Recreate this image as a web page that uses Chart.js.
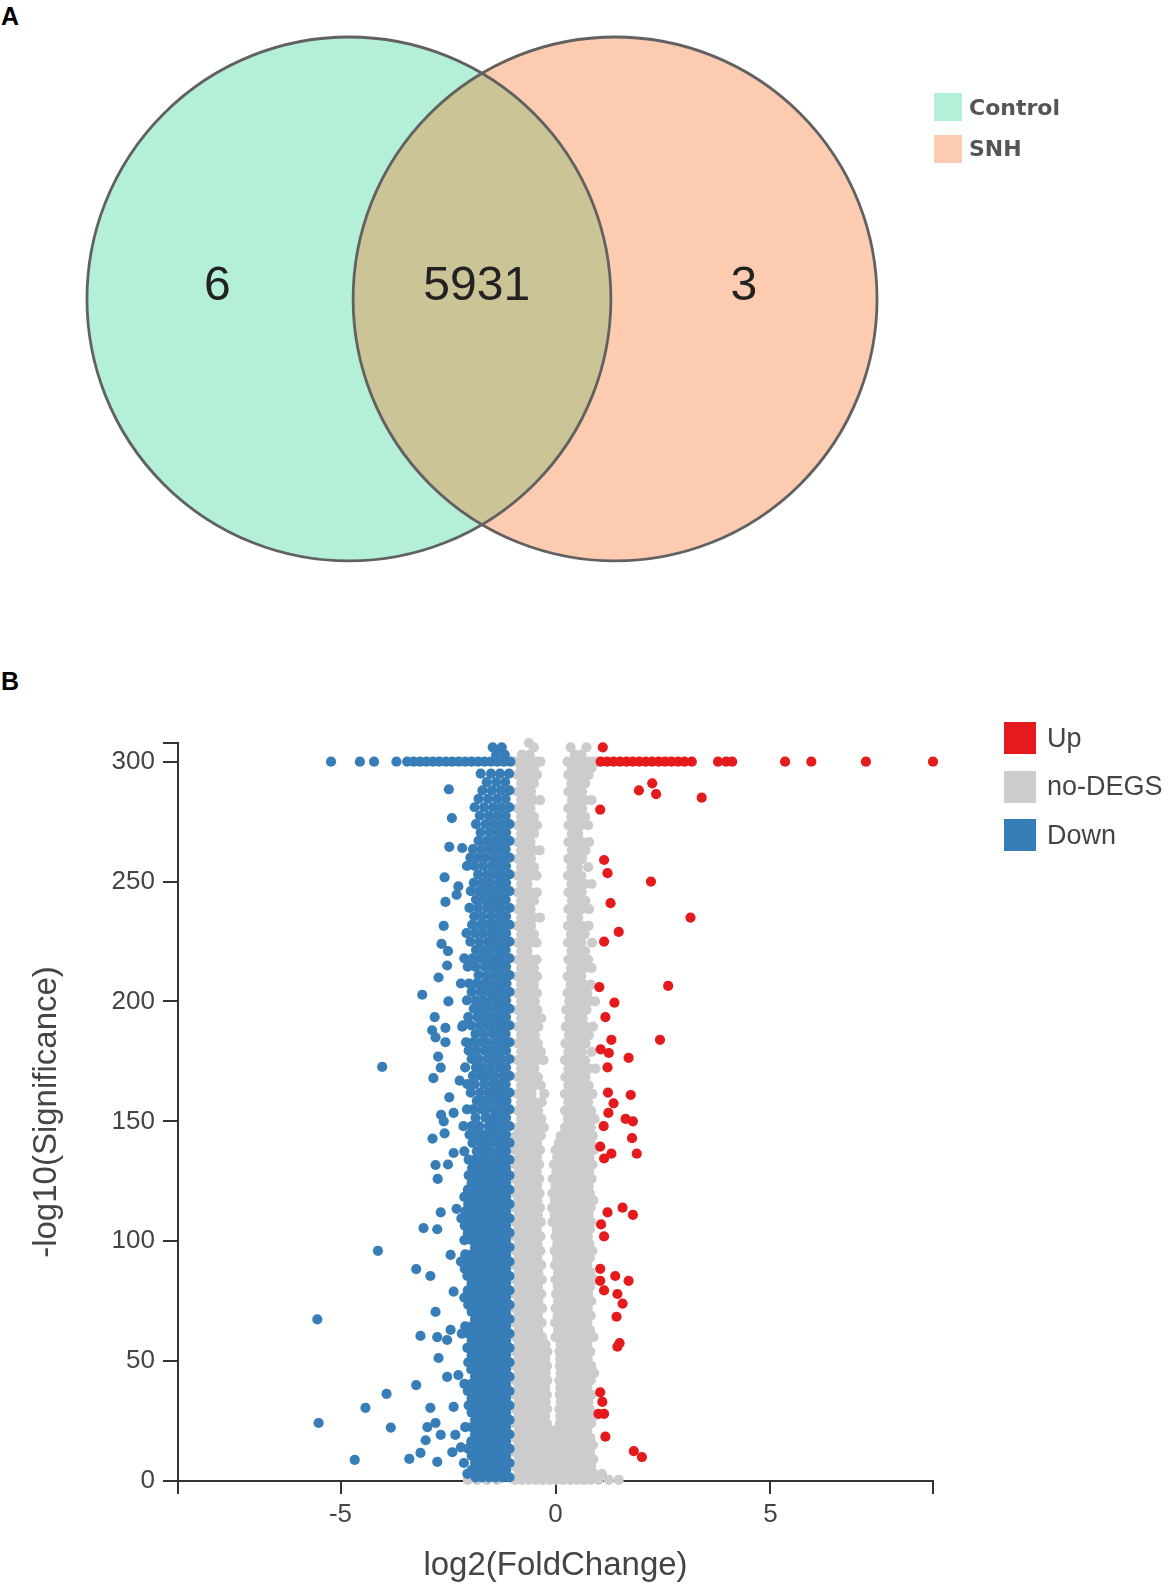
<!DOCTYPE html>
<html>
<head>
<meta charset="utf-8">
<title>Venn diagram and volcano plot</title>
<script src="https://cdn.jsdelivr.net/npm/chart.js@4.4.1/dist/chart.umd.min.js"></script>
<style>
  html, body { margin: 0; padding: 0; background: #fff; }
  body { position: relative; width: 1172px; height: 1592px; overflow: hidden; font-family: 'Liberation Sans', Arial, sans-serif; }
  canvas { position: absolute; left: 0; }
  #venn { top: 0; }
  #volcano { top: 700px; }
  .panel-tag { position: absolute; left: 1px; font-weight: bold; font-size: 25px; line-height: 25px; color: #000; }
  .legend { position: absolute; }
  .legend .row { display: flex; align-items: center; }
  .legend .swatch { flex: none; }
  #venn-legend { left: 934px; top: 93px; font-family: 'DejaVu Sans', sans-serif; font-weight: bold; font-size: 22px; color: #555; }
  #venn-legend .row { height: 28px; margin-bottom: 13.5px; }
  #venn-legend .swatch { width: 28px; height: 28px; margin-right: 7px; }
  #volcano-legend { left: 1004px; top: 722px; font-size: 27px; color: #444; }
  #volcano-legend .row { height: 32px; margin-bottom: 16.5px; }
  #volcano-legend .swatch { width: 32px; height: 32px; margin-right: 11px; }
</style>
</head>
<body>
<div class="panel-tag" style="top:4px">A</div>
<div class="panel-tag" style="top:669px">B</div>
<canvas id="venn" width="1172" height="600"></canvas>
<canvas id="volcano" width="1172" height="892"></canvas>
<div class="legend" id="venn-legend"></div>
<div class="legend" id="volcano-legend"></div>

<script>
// ---- panel A : venn ----
const vennSets = ['Control', 'SNH'];
const vennColors = ['#b4f0d7', '#fdcbb0'];
const vennOverlapColor = '#cbc497';
const vennCenterX = [-0.508, 0.508];
const vennRadius = 1;
const vennCounts = [6, 5931, 3];
const vennCountX = [-1.01, -0.02, 1.0];

// ---- panel B : volcano ----
const seriesNames = ['Up', 'no-DEGS', 'Down'];
const seriesColors = ['#e41a1c', '#cccccc', '#377eb8'];
const xTicks = [-5, 0, 5];
const yTicks = [0, 50, 100, 150, 200, 250, 300];

// rows are [y, x, x, ...]
const upRows = [
  [300, 1.05,1.2,1.35,1.5,1.65,1.8,1.95,2.1,2.25,2.4,2.55,2.7,2.85,3.0,3.17,3.78,3.97,4.11,5.34,5.95,7.22,8.78]
];
// pairs are [x, y]
const upExtra = [
  [1.1,306],[1.94,288],[2.25,291],[2.34,286.5],[3.4,285],[1.04,280],[1.13,259],[1.21,253.5],[2.22,250],
  [1.28,241],[3.14,235],[1.47,229],[1.13,225],[2.62,206.5],[1.02,206],[1.37,199.5],[1.16,193.5],[2.43,184],
  [1.3,184],[1.05,180],[1.24,178.5],[1.7,176.5],[1.21,172.5],[1.22,162],[1.75,161],[1.35,157.5],[1.23,153.5],
  [1.63,151],[1.8,150],[1.12,148],[1.78,143],[1.89,136.5],[1.04,139.5],[1.13,134.5],[1.3,136.5],[1.21,112],
  [1.56,114],[1.8,111],[1.06,107],[1.13,102],[1.04,88.5],[1.39,85.5],[1.7,83.5],[1.04,83.5],[1.13,79.5],
  [1.44,78],[1.56,74],[1.42,68.5],[1.49,57.5],[1.44,56],[1.04,37],[1.09,33],[1.0,28],[1.13,28],[1.16,18.5],
  [1.82,12.5],[2.01,10]
];

const flatRows = [
  [0.5, -2.04,-1.83,-1.6,-1.36,-0.94,-0.78,-0.62,-0.46,-0.3,-0.14,0.02,0.18,0.34,0.5,0.66,0.82,1.0,1.24,1.47],
  [3, -0.86,-0.7,-0.54,-0.38,-0.22,-0.06,0.1,0.26,0.42,0.58,0.74,0.9,1.08],
  [6, -0.93,-0.77,-0.61,-0.45,-0.29,-0.13,0.03,0.19,0.35,0.51,0.67,0.83],
  [9, -0.85,-0.69,-0.53,-0.37,-0.21,-0.05,0.11,0.27,0.43,0.59,0.75,0.88],
  [12, -0.94,-0.78,-0.62,-0.46,-0.3,-0.14,0.02,0.18,0.34,0.5,0.66,0.8],
  [15, -0.86,-0.7,-0.54,-0.38,-0.22,-0.06,0.1,0.26,0.42,0.58,0.73,0.87],
  [18, -0.93,-0.77,-0.61,-0.45,-0.29,-0.13,0.03,0.19,0.35,0.51,0.67,0.81],
  [21, -0.85,-0.69,-0.53,-0.37,-0.21,-0.05,0.11,0.27,0.43,0.59,0.74],
  [24, -0.94,-0.78,-0.62,-0.46,-0.32,-0.2,0.1,0.24,0.39,0.54,0.69,0.83],
  [27, -0.86,-0.7,-0.54,-0.39,-0.24,0.11,0.27,0.43,0.59,0.75,0.89],
  [30, -0.93,-0.77,-0.61,-0.45,-0.31,-0.19,0.09,0.23,0.38,0.53,0.68,0.8],
  [33, -0.85,-0.69,-0.53,-0.38,-0.23,0.12,0.28,0.44,0.6,0.76],
  [36, -0.94,-0.78,-0.62,-0.46,-0.32,-0.2,0.1,0.25,0.4,0.55,0.7,0.84],
  [39, -0.86,-0.7,-0.54,-0.39,-0.24,0.11,0.27,0.43,0.59,0.74],
  [42, -0.93,-0.77,-0.61,-0.45,-0.31,-0.19,0.09,0.24,0.39,0.54,0.69,0.82],
  [45, -0.85,-0.69,-0.53,-0.38,-0.23,0.12,0.28,0.44,0.6,0.76,0.9],
  [48, -0.94,-0.78,-0.62,-0.46,-0.32,-0.2,0.1,0.25,0.4,0.55,0.7,0.83],
  [51, -0.86,-0.7,-0.54,-0.39,-0.24,0.11,0.27,0.43,0.59,0.75],
  [54, -0.93,-0.77,-0.61,-0.45,-0.31,-0.19,0.09,0.24,0.39,0.54,0.69,0.81],
  [57, -0.85,-0.69,-0.53,-0.38,-0.23,0.12,0.28,0.44,0.6,0.74],
  [60, -0.93,-0.77,-0.61,-0.46,-0.31,0.0,0.15,0.3,0.45,0.6,0.75,0.88],
  [63, -0.85,-0.69,-0.54,-0.4,0.06,0.22,0.38,0.53,0.68,0.8],
  [66, -0.94,-0.78,-0.62,-0.47,-0.32,-0.01,0.14,0.29,0.44,0.59,0.74],
  [69, -0.86,-0.7,-0.55,-0.41,0.05,0.21,0.37,0.52,0.67,0.82],
  [72, -0.93,-0.77,-0.61,-0.46,-0.31,0.0,0.15,0.3,0.45,0.6,0.75],
  [75, -0.85,-0.69,-0.54,-0.4,0.06,0.22,0.38,0.53,0.68,0.83],
  [78, -0.94,-0.78,-0.62,-0.47,-0.33,0.01,0.16,0.31,0.46,0.61,0.76],
  [81, -0.86,-0.7,-0.55,-0.41,0.05,0.21,0.37,0.52,0.67,0.8],
  [84, -0.93,-0.77,-0.61,-0.46,-0.32,0.0,0.15,0.3,0.45,0.6,0.75,0.9],
  [87, -0.85,-0.69,-0.54,-0.4,0.06,0.22,0.38,0.53,0.68,0.81],
  [90, -0.94,-0.78,-0.62,-0.47,-0.33,-0.01,0.14,0.29,0.44,0.59,0.74],
  [93, -0.86,-0.7,-0.55,-0.42,0.04,0.2,0.36,0.51,0.66,0.8],
  [96, -0.93,-0.77,-0.61,-0.47,-0.35,-0.02,0.13,0.28,0.43,0.58,0.73,0.86],
  [99, -0.85,-0.69,-0.54,-0.42,0.04,0.2,0.36,0.51,0.66,0.79],
  [102, -0.94,-0.78,-0.62,-0.48,-0.35,0.0,0.15,0.3,0.45,0.6,0.75],
  [105, -0.86,-0.7,-0.56,-0.44,0.03,0.19,0.35,0.5,0.65,0.8],
  [108, -0.93,-0.77,-0.61,-0.46,-0.34,-0.07,0.08,0.23,0.38,0.53,0.68,0.83],
  [111, -0.85,-0.69,-0.54,-0.41,-0.02,0.15,0.31,0.47,0.62,0.77],
  [114, -0.94,-0.78,-0.62,-0.48,-0.36,-0.08,0.07,0.22,0.37,0.52,0.67,0.82],
  [117, -0.86,-0.7,-0.55,-0.42,-0.01,0.15,0.31,0.46,0.61,0.76,0.88],
  [120, -0.93,-0.77,-0.62,-0.48,-0.37,-0.07,0.08,0.23,0.38,0.53,0.68,0.8],
  [123, -0.85,-0.7,-0.55,-0.43,0.0,0.16,0.32,0.47,0.62,0.77],
  [126, -0.94,-0.78,-0.63,-0.5,-0.38,-0.06,0.09,0.24,0.39,0.54,0.69,0.84],
  [129, -0.86,-0.71,-0.56,-0.44,0.02,0.17,0.33,0.48,0.63,0.78],
  [132, -0.93,-0.77,-0.62,-0.49,-0.38,-0.04,0.11,0.26,0.41,0.56,0.71,0.86],
  [135, -0.85,-0.7,-0.56,-0.43,0.04,0.19,0.34,0.49,0.64,0.79],
  [138, -0.94,-0.78,-0.63,-0.48,-0.36,0.0,0.14,0.29,0.44,0.59,0.74,0.89],
  [141, -0.86,-0.71,-0.57,-0.43,0.08,0.23,0.38,0.53,0.68,0.82],
  [144, -0.93,-0.77,-0.62,-0.47,-0.34,0.12,0.27,0.42,0.57,0.72,0.87],
  [147.5, -0.88,-0.72,-0.56,-0.41,-0.27,0.22,0.37,0.52,0.67,0.82],
  [151, -0.8,-0.64,-0.48,-0.33,0.29,0.44,0.6,0.75,0.91],
  [154.5, -0.88,-0.72,-0.56,-0.4,0.22,0.37,0.52,0.68,0.83],
  [158, -0.8,-0.64,-0.48,-0.32,0.3,0.45,0.6,0.76],
  [161.5, -0.88,-0.72,-0.56,-0.26,0.22,0.37,0.53,0.69,0.86],
  [165, -0.8,-0.64,-0.48,-0.34,0.3,0.45,0.61,0.77],
  [168.5, -0.88,-0.72,-0.56,-0.41,0.23,0.38,0.53,0.7],
  [172, -0.8,-0.64,-0.49,0.3,0.46,0.62,0.78,0.93],
  [175.5, -0.88,-0.72,-0.57,-0.42,-0.28,0.22,0.37,0.53,0.69],
  [179, -0.8,-0.64,-0.49,-0.34,0.3,0.46,0.61,0.84],
  [182.5, -0.88,-0.72,-0.57,-0.41,0.23,0.38,0.54,0.7],
  [186, -0.8,-0.64,-0.48,0.31,0.46,0.62,0.78],
  [189.5, -0.88,-0.72,-0.56,-0.4,0.24,0.39,0.55,0.71,0.87],
  [193, -0.8,-0.64,-0.49,-0.33,0.32,0.47,0.63],
  [196.5, -0.88,-0.72,-0.57,-0.42,0.25,0.4,0.56,0.72],
  [200, -0.8,-0.64,-0.48,0.32,0.48,0.64,0.8,0.92],
  [203.5, -0.88,-0.72,-0.57,-0.43,0.28,0.43,0.59,0.74],
  [207, -0.8,-0.64,-0.5,0.35,0.5,0.66,0.82],
  [210.5, -0.88,-0.72,-0.57,-0.43,0.28,0.44,0.6],
  [214, -0.8,-0.65,-0.5,0.36,0.52,0.68,0.84],
  [217.5, -0.88,-0.72,-0.58,-0.44,0.3,0.45,0.6,0.76],
  [221, -0.8,-0.65,0.37,0.53,0.69],
  [224.5, -0.88,-0.73,-0.58,-0.44,0.29,0.44,0.6,0.85],
  [228, -0.8,-0.65,-0.5,0.36,0.52,0.68],
  [231.5, -0.88,-0.72,-0.57,0.29,0.45,0.61,0.77],
  [235, -0.8,-0.65,-0.5,-0.36,0.37,0.53],
  [238.5, -0.88,-0.72,-0.58,0.3,0.46,0.62,0.78],
  [242, -0.8,-0.65,-0.5,0.38,0.54,0.7],
  [245.5, -0.88,-0.72,-0.57,-0.43,0.3,0.45,0.61],
  [249, -0.8,-0.65,0.37,0.53,0.69,0.84],
  [252.5, -0.88,-0.73,-0.58,-0.44,0.29,0.45,0.6],
  [256, -0.8,-0.65,-0.5,0.37,0.52,0.76],
  [259.5, -0.88,-0.72,-0.57,0.3,0.45,0.62],
  [263, -0.8,-0.65,-0.5,-0.37,0.38,0.54,0.7],
  [266.5, -0.88,-0.72,-0.58,0.3,0.46,0.62,0.78],
  [270, -0.8,-0.65,-0.5,0.38,0.53],
  [273.5, -0.88,-0.72,-0.57,-0.43,0.3,0.45,0.61,0.76],
  [277, -0.8,-0.65,-0.5,0.37,0.53,0.69],
  [280.5, -0.88,-0.72,-0.58,0.3,0.46,0.62],
  [284, -0.8,-0.65,-0.5,-0.36,0.38,0.54,0.7,0.84],
  [287.5, -0.88,-0.72,-0.57,0.3,0.46,0.62],
  [291, -0.8,-0.65,-0.5,0.37,0.53,0.69],
  [294.5, -0.88,-0.72,-0.57,-0.43,0.3,0.45,0.61,0.77],
  [297.5, -0.8,-0.65,-0.5,0.38,0.53,0.68,0.84],
  [300, -0.93,-0.81,-0.69,-0.57,-0.45,-0.35,0.28,0.4,0.52,0.64,0.76,0.88,0.98],
  [303, -0.78,-0.6,0.45,0.6],
  [306, -0.5,0.35,0.72],
  [307.8, -0.62]
];

const downRows = [
  [1.5, -1.07,-1.23,-1.39,-1.55,-1.71,-1.86],
  [4.5, -1.15,-1.31,-1.47,-1.63,-1.79,-1.95],
  [7.5, -1.07,-1.23,-1.39,-1.55,-1.71,-1.87],
  [10.5, -1.15,-1.31,-1.47,-1.63,-1.79,-1.95],
  [13.5, -1.07,-1.23,-1.39,-1.55,-1.71,-1.87,-2.03],
  [16.5, -1.15,-1.31,-1.47,-1.63,-1.79,-1.96],
  [19.5, -1.07,-1.23,-1.39,-1.55,-1.71,-1.87],
  [22.5, -1.15,-1.31,-1.47,-1.63,-1.79,-1.95,-2.1],
  [25.5, -1.07,-1.23,-1.39,-1.55,-1.71,-1.87],
  [28.5, -1.15,-1.31,-1.47,-1.63,-1.79,-1.95],
  [31.5, -1.07,-1.23,-1.39,-1.55,-1.71,-1.87,-2.02],
  [34.5, -1.15,-1.31,-1.47,-1.63,-1.79,-1.95],
  [37.5, -1.07,-1.23,-1.39,-1.55,-1.71,-1.87,-2.04],
  [40.5, -1.15,-1.31,-1.47,-1.63,-1.79,-1.95,-2.12],
  [43.5, -1.07,-1.23,-1.39,-1.55,-1.71,-1.87],
  [46.5, -1.15,-1.31,-1.47,-1.63,-1.79,-1.96],
  [49.5, -1.07,-1.23,-1.39,-1.55,-1.71,-1.87,-2.03],
  [52.5, -1.15,-1.31,-1.47,-1.63,-1.79,-1.95],
  [55.5, -1.07,-1.23,-1.39,-1.55,-1.71,-1.87,-2.05],
  [58.5, -1.15,-1.31,-1.47,-1.63,-1.79,-1.95],
  [61.5, -1.07,-1.23,-1.39,-1.55,-1.71,-1.87,-2.03,-2.18],
  [64.5, -1.15,-1.31,-1.47,-1.63,-1.79,-1.95,-2.1],
  [67.5, -1.07,-1.23,-1.39,-1.55,-1.71,-1.87],
  [70.5, -1.15,-1.31,-1.47,-1.63,-1.79,-1.95],
  [73.5, -1.07,-1.23,-1.39,-1.55,-1.71,-1.87,-2.03],
  [76.5, -1.15,-1.31,-1.47,-1.63,-1.79,-1.96,-2.12],
  [79.5, -1.07,-1.23,-1.39,-1.55,-1.71,-1.87,-2.04],
  [82.5, -1.15,-1.31,-1.47,-1.63,-1.79,-1.95],
  [85.5, -1.07,-1.23,-1.39,-1.55,-1.71,-1.87,-2.05],
  [88.5, -1.15,-1.31,-1.47,-1.63,-1.79,-1.95,-2.11],
  [91.5, -1.07,-1.23,-1.39,-1.55,-1.71,-1.87,-2.03,-2.2],
  [94.5, -1.15,-1.31,-1.47,-1.63,-1.79,-1.95,-2.1],
  [97.5, -1.07,-1.23,-1.39,-1.55,-1.71,-1.87],
  [100.5, -1.15,-1.31,-1.47,-1.63,-1.79,-1.95,-2.12],
  [103.5, -1.07,-1.23,-1.39,-1.55,-1.71,-1.87,-2.04],
  [106.5, -1.15,-1.31,-1.47,-1.63,-1.79,-1.95,-2.11],
  [109.5, -1.07,-1.23,-1.39,-1.55,-1.71,-1.87,-2.03,-2.19],
  [112.5, -1.15,-1.31,-1.47,-1.63,-1.79,-1.95,-2.1],
  [115.5, -1.07,-1.23,-1.39,-1.55,-1.71,-1.87,-2.03],
  [118.5, -1.15,-1.31,-1.47,-1.63,-1.79,-1.95,-2.12],
  [121.5, -1.07,-1.23,-1.39,-1.55,-1.71,-1.87,-2.04],
  [124.5, -1.15,-1.31,-1.47,-1.63,-1.79,-1.95],
  [127.5, -1.07,-1.23,-1.39,-1.55,-1.71,-1.87,-2.02],
  [130.5, -1.15,-1.31,-1.47,-1.63,-1.79,-1.94],
  [134, -1.07,-1.23,-1.39,-1.55,-1.71,-1.87,-2.02],
  [137.5, -1.15,-1.31,-1.5,-1.66,-1.83,-2.12],
  [141, -1.07,-1.23,-1.39,-1.58,-1.74,-1.93],
  [144.5, -1.15,-1.33,-1.48,-1.66,-1.84,-2.0],
  [148, -1.07,-1.22,-1.4,-1.55,-1.77,-1.95,-2.14],
  [151.5, -1.15,-1.3,-1.46,-1.63,-1.86],
  [155, -1.07,-1.23,-1.41,-1.6,-1.73,-1.92,-2.06],
  [158.5, -1.14,-1.32,-1.5,-1.68,-1.83],
  [162, -1.07,-1.25,-1.39,-1.56,-1.76,-1.97],
  [165.5, -1.16,-1.31,-1.47,-1.66,-1.88,-2.05],
  [169, -1.07,-1.22,-1.42,-1.59,-1.74,-1.92],
  [172.5, -1.15,-1.31,-1.5,-1.69,-1.85,-2.1],
  [176, -1.07,-1.26,-1.41,-1.58,-1.78,-1.95],
  [179.5, -1.15,-1.33,-1.49,-1.65,-1.84,-2.02],
  [183, -1.07,-1.23,-1.41,-1.6,-1.73,-1.91,-2.08],
  [186.5, -1.16,-1.3,-1.47,-1.67,-1.86],
  [190, -1.07,-1.24,-1.4,-1.57,-1.76,-1.96,-2.15],
  [193.5, -1.15,-1.32,-1.5,-1.65,-1.82,-2.03],
  [197, -1.07,-1.22,-1.39,-1.58,-1.75,-1.9],
  [200.5, -1.15,-1.32,-1.49,-1.68,-1.86,-2.06],
  [204, -1.07,-1.25,-1.41,-1.56,-1.74,-1.95],
  [207.5, -1.14,-1.31,-1.5,-1.66,-1.84,-2.01,-2.2],
  [211, -1.07,-1.24,-1.42,-1.6,-1.79],
  [214.5, -1.15,-1.33,-1.48,-1.65,-1.86,-2.04],
  [218, -1.07,-1.23,-1.4,-1.58,-1.74,-1.93,-2.12],
  [221.5, -1.16,-1.31,-1.5,-1.67,-1.85],
  [225, -1.07,-1.24,-1.4,-1.57,-1.77,-1.98],
  [228.5, -1.15,-1.33,-1.49,-1.68,-1.87,-2.07],
  [232, -1.07,-1.23,-1.41,-1.58,-1.75,-1.94],
  [235.5, -1.15,-1.31,-1.5,-1.7,-1.89],
  [239, -1.07,-1.26,-1.42,-1.6,-1.8,-2.0],
  [242.5, -1.16,-1.33,-1.5,-1.67,-1.85],
  [246, -1.07,-1.23,-1.41,-1.59,-1.77,-1.97],
  [249.5, -1.15,-1.32,-1.52,-1.7,-1.9],
  [253, -1.07,-1.25,-1.42,-1.6,-1.8],
  [256.5, -1.15,-1.32,-1.49,-1.68,-1.88,-2.06],
  [260, -1.07,-1.24,-1.43,-1.62,-1.8],
  [263.5, -1.16,-1.34,-1.52,-1.72,-1.92],
  [267, -1.07,-1.23,-1.41,-1.6,-1.79],
  [270.5, -1.15,-1.33,-1.53,-1.74],
  [274, -1.07,-1.25,-1.44,-1.63,-1.85],
  [277.5, -1.16,-1.35,-1.55,-1.76],
  [281, -1.07,-1.26,-1.45,-1.66,-1.88],
  [284.5, -1.16,-1.36,-1.57,-1.79],
  [288, -1.07,-1.27,-1.48,-1.7],
  [291.5, -1.17,-1.38,-1.6],
  [295, -1.08,-1.29,-1.5,-1.74],
  [300, -5.22,-4.55,-4.22,-3.7,-3.45,-3.3,-3.15,-3.0,-2.85,-2.7,-2.55,-2.4,-2.25,-2.1,-1.95,-1.8,-1.65,-1.5,-1.35,-1.2,-1.05],
  [303, -1.38,-1.18],
  [306, -1.46,-1.25]
];

const downExtra = [
  [-2.48,288.5],[-2.41,276.5],[-2.47,264.5],[-2.17,264],[-1.98,260],[-2.58,251.8],[-2.26,248],[-2.3,244.5],
  [-2.56,241.5],[-2.6,231.5],[-2.65,224],[-2.5,221],[-2.52,215],[-2.72,210],[-3.1,202.8],[-2.49,200],
  [-2.81,193.5],[-2.17,189.5],[-2.56,189],[-2.87,188],[-2.79,185],[-2.56,183],[-2.73,177],[-4.03,172.7],
  [-2.67,172.4],[-2.84,168],[-2.23,167],[-2.47,160],[-2.37,153.5],[-2.66,152.7],[-2.6,150],[-2.58,145],
  [-2.86,142.8],[-2.37,136.8],[-2.79,131.8],[-2.5,132],[-2.74,126],[-2.67,112],[-2.3,113.5],[-3.07,105.5],
  [-2.75,105],[-4.13,96],[-2.44,94.3],[-3.24,88.4],[-2.91,85.5],[-2.37,79],[-2.79,70.5],[-5.54,67.4],
  [-3.14,60.5],[-2.75,60],[-2.52,58.8],[-2.44,63],[-2.72,51.3],[-2.52,43.4],[-2.26,44.2],[-3.24,40],
  [-3.93,36.3],[-4.42,30.5],[-2.91,30.5],[-2.37,30.9],[-5.51,24.2],[-3.83,22.3],[-2.98,22.5],[-2.79,24.2],
  [-2.67,19.2],[-2.33,19.2],[-3.02,17],[-3.14,11.7],[-3.4,9.2],[-4.67,8.8],[-2.75,8],[-2.13,7.5],
  [-2.4,12],[-2.2,14],[-2.05,3]
];

function fromRows(rows) {
  const pts = [];
  rows.forEach(r => r.slice(1).forEach(x => pts.push({ x: x, y: r[0] })));
  return pts;
}
function fromPairs(pairs) {
  return pairs.map(p => ({ x: p[0], y: p[1] }));
}

const upPts = fromRows(upRows).concat(fromPairs(upExtra));
const flatPts = fromRows(flatRows);
const downPts = fromRows(downRows).concat(fromPairs(downExtra));
const allPts = upPts.concat(flatPts, downPts);
const xLim = Math.max(...allPts.map(p => Math.abs(p.x)));
const yLim = Math.max(...allPts.map(p => p.y));

// ---- html legends ----
function buildLegend(el, names, colors) {
  names.forEach((name, i) => {
    const row = document.createElement('div');
    row.className = 'row';
    const sw = document.createElement('span');
    sw.className = 'swatch';
    sw.style.background = colors[i];
    const txt = document.createElement('span');
    txt.textContent = name;
    row.appendChild(sw);
    row.appendChild(txt);
    el.appendChild(row);
  });
}
buildLegend(document.getElementById('venn-legend'), vennSets, vennColors);
buildLegend(document.getElementById('volcano-legend'), seriesNames, seriesColors);

// ---- venn chart ----
const vennOverlay = {
  id: 'vennOverlay',
  afterDatasetsDraw(chart) {
    const ctx = chart.ctx;
    const a = chart.getDatasetMeta(0).data[0];
    const b = chart.getDatasetMeta(1).data[0];
    const ra = a.options.radius;
    const rb = b.options.radius;

    // shared region
    ctx.save();
    ctx.beginPath();
    ctx.arc(a.x, a.y, ra, 0, Math.PI * 2);
    ctx.clip();
    ctx.beginPath();
    ctx.arc(b.x, b.y, rb, 0, Math.PI * 2);
    ctx.fillStyle = vennOverlapColor;
    ctx.fill();
    ctx.restore();

    // outlines
    ctx.save();
    ctx.lineWidth = 2.8;
    ctx.strokeStyle = '#616161';
    [[a, ra], [b, rb]].forEach(([p, r]) => {
      ctx.beginPath();
      ctx.arc(p.x, p.y, r, 0, Math.PI * 2);
      ctx.stroke();
    });

    // counts
    ctx.fillStyle = '#222';
    ctx.font = '48px "Liberation Sans", Arial, sans-serif';
    ctx.textAlign = 'center';
    ctx.textBaseline = 'middle';
    const ty = chart.scales.y.getPixelForValue(0.046);
    vennCounts.forEach((n, i) => {
      ctx.fillText(String(n), chart.scales.x.getPixelForValue(vennCountX[i]), ty);
    });
    ctx.restore();
  }
};

function circleRadius(c) {
  const s = c.chart.scales.x;
  return s.getPixelForValue(vennRadius) - s.getPixelForValue(0);
}

new Chart(document.getElementById('venn'), {
  type: 'scatter',
  data: {
    datasets: vennSets.map((name, i) => ({
      label: name,
      data: [{ x: vennCenterX[i], y: 0 }],
      backgroundColor: vennColors[i],
      borderWidth: 0,
      pointRadius: circleRadius,
      pointHoverRadius: circleRadius,
      clip: false
    }))
  },
  options: {
    responsive: false,
    animation: false,
    events: [],
    layout: { padding: 0 },
    plugins: { legend: { display: false }, tooltip: { enabled: false } },
    scales: {
      x: { type: 'linear', display: false, min: -1.84, max: 2.634 },
      y: { type: 'linear', display: false, min: -1.149, max: 1.141 }
    }
  },
  plugins: [vennOverlay]
});

// ---- volcano chart ----
const axisFont = { family: "'Liberation Sans', Arial, sans-serif", size: 26 };
const titleFont = { family: "'Liberation Sans', Arial, sans-serif", size: 33, lineHeight: 1 };

new Chart(document.getElementById('volcano'), {
  type: 'scatter',
  data: {
    datasets: [
      { label: seriesNames[0], data: upPts, backgroundColor: seriesColors[0], order: 0, clip: false },
      { label: seriesNames[1], data: flatPts, backgroundColor: seriesColors[1], order: 2, clip: false },
      { label: seriesNames[2], data: downPts, backgroundColor: seriesColors[2], order: 1, clip: false }
    ]
  },
  options: {
    responsive: false,
    animation: false,
    events: [],
    layout: { padding: { top: 43, right: 239, bottom: 0, left: 0 } },
    elements: { point: { radius: 5.1, hoverRadius: 5.1, borderWidth: 0 } },
    plugins: { legend: { display: false }, tooltip: { enabled: false } },
    scales: {
      x: {
        type: 'linear',
        min: -xLim,
        max: xLim,
        afterBuildTicks: s => { s.ticks = [-xLim].concat(xTicks, [xLim]).map(v => ({ value: v })); },
        afterFit: s => { s.height = 111; },
        border: { display: true, color: '#333', width: 2 },
        grid: { drawOnChartArea: false, drawTicks: true, tickLength: 13, color: '#333', lineWidth: 2 },
        ticks: {
          autoSkip: false, maxRotation: 0, padding: 5, color: '#444', font: axisFont,
          callback: v => xTicks.includes(v) ? String(v) : ''
        },
        title: { display: true, text: 'log2(FoldChange)', color: '#444', font: titleFont, padding: { top: 0, bottom: 10 } }
      },
      y: {
        type: 'linear',
        min: 0,
        max: yLim,
        afterBuildTicks: s => { s.ticks = yTicks.concat([yLim]).map(v => ({ value: v })); },
        afterFit: s => { s.width = 178; },
        border: { display: true, color: '#333', width: 2 },
        grid: { drawOnChartArea: false, drawTicks: true, tickLength: 15, color: '#333', lineWidth: 2 },
        ticks: {
          autoSkip: false, padding: 8, color: '#444', font: axisFont,
          callback: v => yTicks.includes(v) ? String(v) : ''
        },
        title: { display: true, text: '-log10(Significance)', color: '#444', font: titleFont, padding: { top: 30, bottom: 0 } }
      }
    }
  }
});
</script>
</body>
</html>
